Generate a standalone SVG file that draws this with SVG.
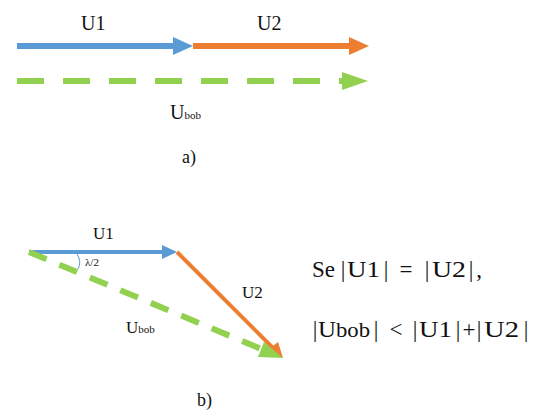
<svg xmlns="http://www.w3.org/2000/svg" width="543" height="412" viewBox="0 0 543 412">
<style>
text{font-family:"Liberation Serif","DejaVu Serif",serif;fill:#111}
.eq text{font-size:23px;text-anchor:middle}
.eq text.s{text-anchor:start}
.b{stroke:#5B9BD5;fill:none}
.o{stroke:#ED7D31;fill:none}
.g{stroke:#92D050;fill:none}
.bf{fill:#5B9BD5}.of{fill:#ED7D31}.gf{fill:#92D050}
</style>
<rect width="543" height="412" fill="#fff"/>
<g id="connectors">
<!-- a) -->
<line class="b" x1="17" y1="46" x2="176" y2="46" stroke-width="6"/>
<polygon class="bf" points="173,37 193,46 173,55"/>
<line class="o" x1="193" y1="46" x2="352" y2="46" stroke-width="6"/>
<polygon class="of" points="349,37 369,46 349,55"/>
<line class="g" x1="17" y1="81" x2="342" y2="81" stroke-width="6" stroke-dasharray="27 19"/>
<polygon class="gf" points="342,72 368,81 342,90"/>
<!-- b) -->
<line class="b" x1="29" y1="252" x2="164" y2="252" stroke-width="4"/>
<polygon class="bf" points="162,245 177,252 162,259"/>
<line class="o" x1="177" y1="252" x2="276" y2="351" stroke-width="4"/>
<polygon class="of" points="269,349 283,358 278,342"/>
<line class="g" x1="29" y1="252" x2="266" y2="351" stroke-width="6" stroke-dasharray="19 14"/>
<polygon class="gf" points="264,342 283,358 258,357"/>
<path d="M77,254 Q82,262 78,269" stroke="#5B9BD5" stroke-width="1" fill="none"/>
</g>
<g id="labels-a">
<text x="81" y="30" font-size="20">U1</text>
<text x="257" y="30" font-size="20">U2</text>
<text x="170" y="119" font-size="20">U<tspan font-size="11">bob</tspan></text>
<text x="182" y="163" font-size="18">a)</text>
</g>
<g id="labels-b">
<text x="93" y="239" font-size="17">U1</text>
<text x="85" y="266" font-size="11">λ/2</text>
<text x="242" y="298" font-size="17">U2</text>
<text x="126" y="333" font-size="17">U<tspan font-size="11">bob</tspan></text>
<text x="197" y="406" font-size="18">b)</text>
</g>
<g id="equation-1" class="eq">
<text class="s" x="312" y="277">Se</text>
<text x="343" y="277">|</text>
<text class="s" x="347" y="277" textLength="33" lengthAdjust="spacingAndGlyphs">U1</text>
<text x="386" y="277">|</text>
<text x="406" y="277">=</text>
<text x="427" y="277">|</text>
<text class="s" x="432" y="277" textLength="34" lengthAdjust="spacingAndGlyphs">U2</text>
<text x="471" y="277">|</text>
<text x="479" y="277">,</text>
</g>
<g id="equation-2" class="eq">
<text x="315" y="337">|</text>
<text class="s" x="318" y="337" textLength="18" lengthAdjust="spacingAndGlyphs">U</text>
<text class="s" x="336" y="337" style="font-size:20px" textLength="34" lengthAdjust="spacingAndGlyphs">bob</text>
<text x="376" y="337">|</text>
<text x="396" y="337">&lt;</text>
<text x="415" y="337">|</text>
<text class="s" x="419" y="337" textLength="33" lengthAdjust="spacingAndGlyphs">U1</text>
<text x="458" y="337">|</text>
<text x="469" y="337">+</text>
<text x="479" y="337">|</text>
<text class="s" x="484" y="337" textLength="35" lengthAdjust="spacingAndGlyphs">U2</text>
<text x="526" y="337">|</text>
</g>
</svg>
